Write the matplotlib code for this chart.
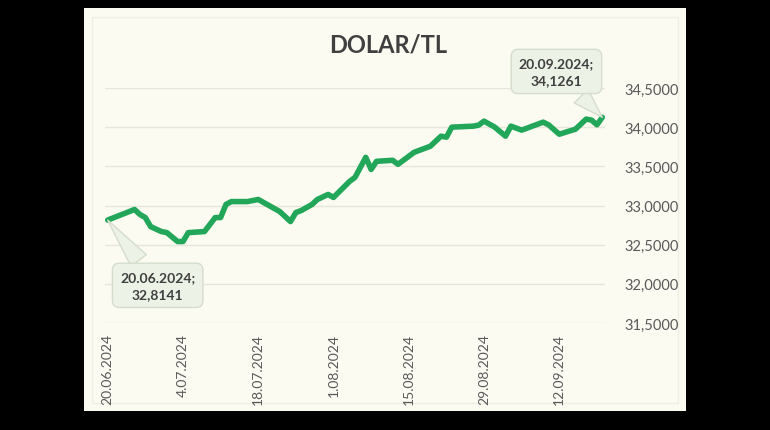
import matplotlib
import matplotlib.pyplot as plt
import pandas as pd
from matplotlib.patches import Rectangle

matplotlib.use("Agg")

# veri (grafikten okunan yaklaşık değerler)
dates = [
    "20.06.2024", "25.06.2024", "26.06.2024", "27.06.2024", "28.06.2024",
    "30.06.2024", "01.07.2024", "03.07.2024", "04.07.2024", "05.07.2024",
    "08.07.2024", "10.07.2024", "11.07.2024", "12.07.2024", "13.07.2024",
    "16.07.2024", "18.07.2024", "22.07.2024", "24.07.2024", "25.07.2024",
    "26.07.2024", "28.07.2024", "29.07.2024", "31.07.2024", "01.08.2024",
    "04.08.2024", "05.08.2024", "07.08.2024", "08.08.2024", "09.08.2024",
    "12.08.2024", "13.08.2024", "16.08.2024", "19.08.2024", "21.08.2024",
    "22.08.2024", "23.08.2024", "27.08.2024", "28.08.2024", "29.08.2024",
    "31.08.2024", "02.09.2024", "03.09.2024", "05.09.2024", "09.09.2024",
    "10.09.2024", "12.09.2024", "15.09.2024", "17.09.2024", "18.09.2024",
    "19.09.2024", "20.09.2024",
]
values = [
    32.8141, 32.949, 32.885, 32.846, 32.730,
    32.667, 32.654, 32.540, 32.540, 32.654,
    32.667, 32.846, 32.846, 33.013, 33.050,
    33.050, 33.077, 32.923, 32.795, 32.910,
    32.936, 33.013, 33.077, 33.141, 33.103,
    33.308, 33.359, 33.615, 33.460, 33.564,
    33.577, 33.526, 33.679, 33.756, 33.885,
    33.872, 34.000, 34.013, 34.026, 34.077,
    34.000, 33.885, 34.013, 33.962, 34.064,
    34.030, 33.910, 33.974, 34.103, 34.090,
    34.030, 34.1261,
]
tick_dates = ["20.06.2024", "04.07.2024", "18.07.2024", "01.08.2024",
              "15.08.2024", "29.08.2024", "12.09.2024"]
tick_labels = ["20.06.2024", "4.07.2024", "18.07.2024", "1.08.2024",
               "15.08.2024", "29.08.2024", "12.09.2024"]
y_ticks = [31.5, 32.0, 32.5, 33.0, 33.5, 34.0, 34.5]

x = pd.to_datetime(dates, format="%d.%m.%Y")
xt = pd.to_datetime(tick_dates, format="%d.%m.%Y")

plt.rcParams["font.family"] = ["Lato", "DejaVu Sans"]

LINE = "#22a65a"
TEXT = "#404040"
AXIS_TXT = "#595959"
PANEL = "#fbfbf2"
BOX_FC = "#edf2e6"
BOX_EC = "#d5ddcc"

fig = plt.figure(figsize=(7.7, 4.31), dpi=100)
fig.patch.set_facecolor("black")

# krem panel
fig.patches.append(Rectangle((84 / 770, 19 / 431), 602 / 770, 403 / 431,
                             transform=fig.transFigure, facecolor=PANEL,
                             edgecolor="none", zorder=-2))
fig.patches.append(Rectangle((92 / 770, 27 / 431), 586 / 770, 386 / 431,
                             transform=fig.transFigure, facecolor="none",
                             edgecolor="#efefe3", linewidth=1, zorder=-1))

ax = fig.add_axes([105 / 770, (431 - 324) / 431, 500 / 770, 235 / 431])
ax.set_zorder(2)
ax.set_facecolor("none")

ax.plot(x, values, color=LINE, linewidth=4, solid_joinstyle="round",
        solid_capstyle="round", zorder=3)

ax.set_ylim(y_ticks[0], y_ticks[-1])
ax.set_xlim(x[0] - pd.Timedelta(days=0.5), x[-1] + pd.Timedelta(days=0.5))
ax.set_yticks(y_ticks)
ax.set_yticklabels([f"{v:.4f}".replace(".", ",") for v in y_ticks])
ax.yaxis.tick_right()
ax.set_xticks(xt)
ax.set_xticklabels(tick_labels, rotation=90, va="top", ha="center")
ax.tick_params(axis="y", length=0, pad=14, labelsize=10.5, labelcolor=AXIS_TXT)
ax.tick_params(axis="x", length=0, pad=7, labelsize=10, labelcolor=AXIS_TXT)
ax.grid(axis="y", color="#e6e6da", linewidth=1)
ax.grid(axis="x", visible=False)
for s in ax.spines.values():
    s.set_visible(False)

fig.text(388 / 770, 1 - 45 / 431, "DOLAR/TL", ha="center", va="center",
         fontsize=17, fontweight="bold", color=TEXT)


# değer etiketleri
def _fmt(i):
    return f"{dates[i]};\n" + f"{values[i]:.4f}".replace(".", ",")


box = dict(boxstyle="round,pad=0.55,rounding_size=0.5", fc=BOX_FC, ec=BOX_EC, lw=1)
arrow = dict(arrowstyle="wedge,tail_width=1.4,shrink_factor=0.5", fc=BOX_FC,
             ec=BOX_EC, lw=1, shrinkB=0)
ax.annotate(_fmt(0), xy=(x[0], values[0]), xytext=(36, -47),
            textcoords="offset points", ha="center", va="center",
            fontsize=10, fontweight="bold", color=TEXT, linespacing=1.5,
            bbox=box, arrowprops=arrow, zorder=5, annotation_clip=False)
ax.annotate(_fmt(-1), xy=(x[-1], values[-1]), xytext=(-33, 33),
            textcoords="offset points", ha="center", va="center",
            fontsize=10, fontweight="bold", color=TEXT, linespacing=1.5,
            bbox=box, arrowprops=arrow, zorder=5, annotation_clip=False)

fig.savefig("out.png", dpi=100, facecolor=fig.get_facecolor())
